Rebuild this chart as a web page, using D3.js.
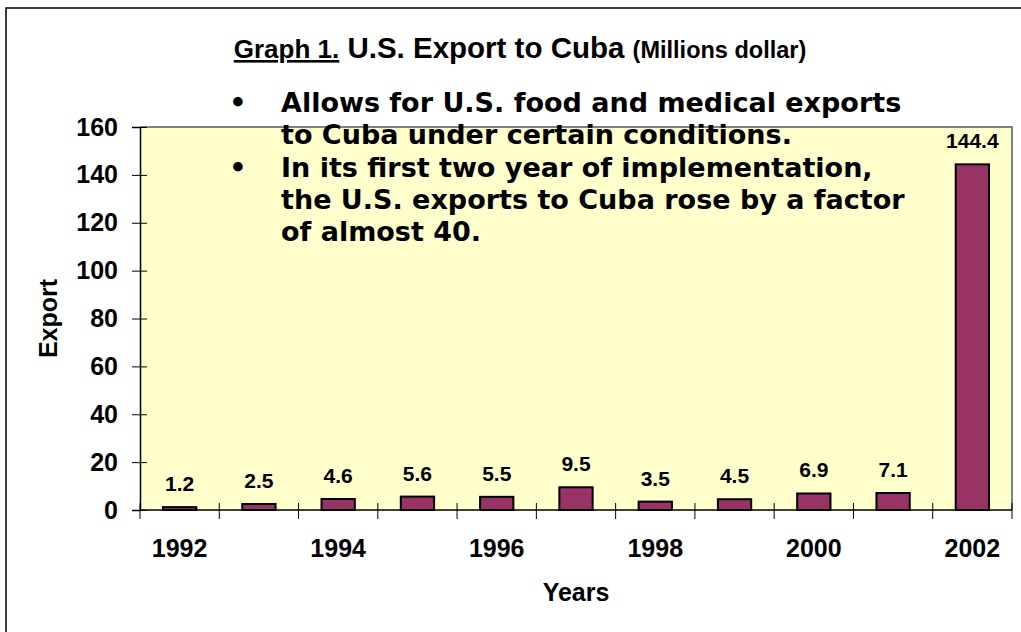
<!DOCTYPE html>
<html>
<head>
<meta charset="utf-8">
<script src="https://cdn.jsdelivr.net/npm/d3@7"></script>
<style>
  body { margin: 0; background: #fff; }
  svg { display: block; }
  text { font-family: "Liberation Sans", Arial, sans-serif; font-weight: bold; fill: #000; }
  .note { font-family: "DejaVu Sans", Verdana, sans-serif; font-size: 27px; }
</style>
</head>
<body>
<svg width="1021" height="632"></svg>
<script>
// data
const years = [1992, 1993, 1994, 1995, 1996, 1997, 1998, 1999, 2000, 2001, 2002];
const exportsM = [1.2, 2.5, 4.6, 5.6, 5.5, 9.5, 3.5, 4.5, 6.9, 7.1, 144.4];
const yTicks = [0, 20, 40, 60, 80, 100, 120, 140, 160];
const xLabelYears = [1992, 1994, 1996, 1998, 2000, 2002];
const notes = [
  ['Allows for U.S. food and medical exports', 'to Cuba under certain conditions.'],
  ['In its first two year of implementation,', 'the U.S. exports to Cuba rose by a factor', 'of almost 40.']
];

const svg = d3.select('svg');
const plot = { left: 140, right: 1012, top: 127, bottom: 510 };

// outer frame (runs off the right and bottom edges)
svg.append('rect')
  .attr('x', 6).attr('y', 8)
  .attr('width', 1100).attr('height', 700)
  .attr('fill', 'none').attr('stroke', '#000').attr('stroke-width', 1.5);

const x = d3.scaleBand().domain(years).range([plot.left, plot.right]).padding(0);
const y = d3.scaleLinear().domain([0, 160]).range([plot.bottom, plot.top]);

// plot background, grey border on top and right
svg.append('rect')
  .attr('x', plot.left).attr('y', plot.top)
  .attr('width', plot.right - plot.left).attr('height', plot.bottom - plot.top)
  .attr('fill', '#FFFFCC');
svg.append('path')
  .attr('d', `M${plot.left},${plot.top}H${plot.right}V${plot.bottom}`)
  .attr('fill', 'none').attr('stroke', '#808080').attr('stroke-width', 2);

// bars
const barW = x.bandwidth() * 0.42;
svg.append('g').selectAll('rect')
  .data(exportsM)
  .enter().append('rect')
    .attr('x', (d, i) => x(years[i]) + (x.bandwidth() - barW) / 2)
    .attr('y', d => y(d))
    .attr('width', barW)
    .attr('height', d => y(0) - y(d))
    .attr('fill', '#993366')
    .attr('stroke', '#000')
    .attr('stroke-width', 2);

// value labels
svg.append('g').selectAll('text')
  .data(exportsM)
  .enter().append('text')
    .attr('x', (d, i) => x(years[i]) + x.bandwidth() / 2)
    .attr('y', d => y(d) - 16)
    .attr('text-anchor', 'middle')
    .style('font-size', '21px')
    .text(d => d.toFixed(1));

// y axis
const yAxis = svg.append('g')
  .attr('transform', `translate(${plot.left},0)`)
  .call(d3.axisLeft(y).tickValues(yTicks).tickSize(8).tickPadding(14));
yAxis.select('.domain').attr('stroke', '#000').attr('stroke-width', 1.5);
yAxis.selectAll('.tick line').attr('x2', 7).attr('x1', -8).attr('stroke', '#000');
yAxis.selectAll('.tick text')
  .attr('x', -22)
  .style('font-size', '25px')
  .style('font-family', '"Liberation Sans", Arial, sans-serif')
  .style('font-weight', 'bold');

// x axis: ticks on band edges, labels on every other year
const edges = years.map(yr => x(yr)).concat([plot.right]);
svg.append('line')
  .attr('x1', plot.left).attr('x2', plot.right)
  .attr('y1', plot.bottom).attr('y2', plot.bottom)
  .attr('stroke', '#000').attr('stroke-width', 1.5);
svg.append('g').selectAll('line')
  .data(edges)
  .enter().append('line')
    .attr('x1', d => d).attr('x2', d => d)
    .attr('y1', plot.bottom - 7).attr('y2', plot.bottom + 9)
    .attr('stroke', '#000').attr('stroke-width', 1);
svg.append('g').selectAll('text')
  .data(xLabelYears)
  .enter().append('text')
    .attr('x', d => x(d) + x.bandwidth() / 2)
    .attr('y', 557)
    .attr('text-anchor', 'middle')
    .style('font-size', '25px')
    .text(d => d);

// axis titles
svg.append('text')
  .attr('x', (plot.left + plot.right) / 2).attr('y', 601)
  .attr('text-anchor', 'middle')
  .style('font-size', '25px')
  .text('Years');
svg.append('text')
  .attr('transform', `translate(57,${(plot.top + plot.bottom) / 2}) rotate(-90)`)
  .attr('text-anchor', 'middle')
  .style('font-size', '25px')
  .text('Export');

// chart title
const title = svg.append('text')
  .attr('x', 520).attr('y', 58)
  .attr('text-anchor', 'middle')
  .style('font-size', '29.5px');
title.append('tspan').style('font-size', '26px').attr('text-decoration', 'underline').text('Graph 1.');
title.append('tspan').text(' U.S. Export to Cuba ');
title.append('tspan').style('font-size', '23.5px').text('(Millions dollar)');

// bullet notes over the chart
let lineNo = 0;
const lineH = 32.3;
notes.forEach(block => {
  svg.append('text').attr('class', 'note')
    .attr('x', 238).attr('y', 112 + lineNo * lineH)
    .attr('text-anchor', 'middle')
    .text('•');
  block.forEach(line => {
    svg.append('text').attr('class', 'note')
      .attr('x', 281).attr('y', 112 + lineNo * lineH)
      .text(line);
    lineNo++;
  });
});
</script>
</body>
</html>
